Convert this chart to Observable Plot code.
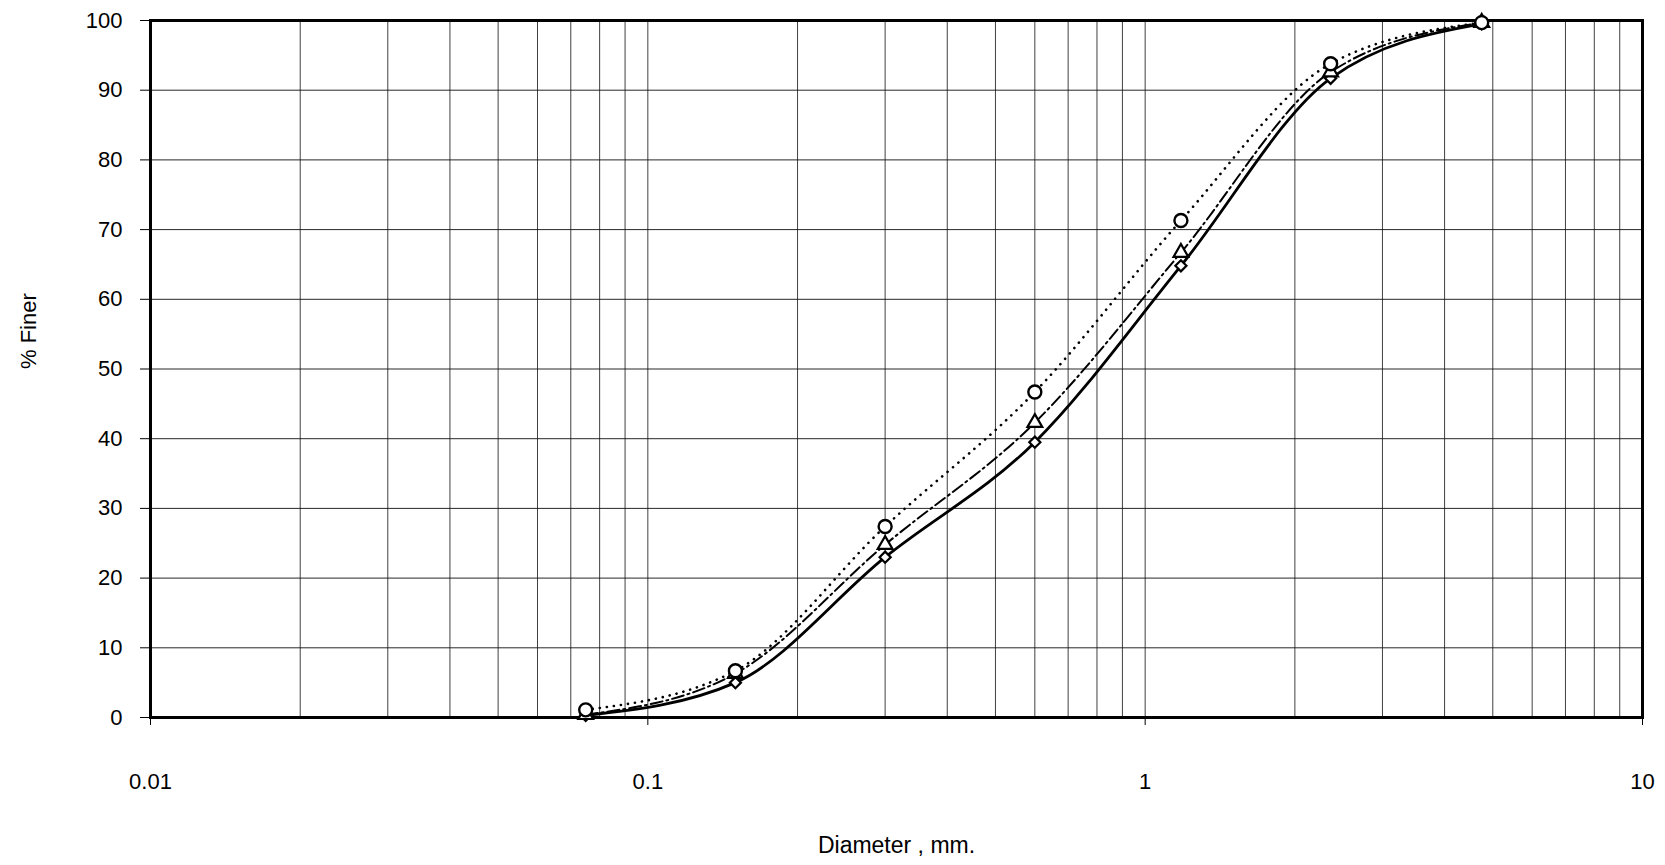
<!DOCTYPE html>
<html>
<head>
<meta charset="utf-8">
<script src="https://cdn.jsdelivr.net/npm/d3@7"></script>
<script src="https://cdn.jsdelivr.net/npm/@observablehq/plot@0.6"></script>
<style>
  html, body { margin: 0; padding: 0; background: white; }
  #chart { width: 1665px; height: 865px; }
</style>
</head>
<body>
<div id="chart"></div>
<script>
// Sieve sizes (mm)
const sizes = [0.075, 0.15, 0.3, 0.6, 1.18, 2.36, 4.75];
// % finer for the three samples
const seriesCircle   = [1.1, 6.7, 27.4, 46.7, 71.3, 93.8, 99.7];
const seriesTriangle = [0.4, 6.3, 24.8, 42.3, 66.7, 92.6, 99.7];
const seriesDiamond  = [0.3, 5.0, 23.0, 39.5, 64.8, 91.7, 99.5];

// Axis ticks and labels
const xTicks = [0.01, 0.1, 1, 10];
const xTickLabels = ["0.01", "0.1", "1", "10"];
const xGrid = [0.02,0.03,0.04,0.05,0.06,0.07,0.08,0.09,0.1,
               0.2,0.3,0.4,0.5,0.6,0.7,0.8,0.9,1,
               2,3,4,5,6,7,8,9];
const yTicks = [0,10,20,30,40,50,60,70,80,90,100];
const yGrid = [10,20,30,40,50,60,70,80,90];
const xTitle = "Diameter , mm.";
const yTitle = "% Finer";

const rows = vals => sizes.map((s, i) => ({x: s, y: vals[i]}));
const dC = rows(seriesCircle), dT = rows(seriesTriangle), dD = rows(seriesDiamond);

const font = "'Liberation Sans', Arial, sans-serif";

const chart = Plot.plot({
  width: 1665,
  height: 865,
  marginLeft: 150,
  marginRight: 23,
  marginTop: 20,
  marginBottom: 148,
  x: {type: "log", domain: [0.01, 10]},
  y: {domain: [0, 100]},
  style: {fontFamily: font, fontSize: "22px", background: "white", color: "black"},
  marks: [
    Plot.ruleX(xGrid, {stroke: "#111", strokeWidth: 1, strokeOpacity: 0.8}),
    Plot.ruleY(yGrid, {stroke: "#111", strokeWidth: 1, strokeOpacity: 0.9}),
    Plot.axisY({ticks: yTicks, tickSize: 10, tickPadding: 18, fontSize: 22, label: null, stroke: "black"}),
    Plot.axisX({ticks: xTicks, tickSize: 8, tickPadding: 48, fontSize: 22, label: null,
                tickFormat: d => xTickLabels[xTicks.indexOf(d)]}),
    Plot.line(dC, {x: "x", y: "y", curve: "monotone-x", stroke: "black", strokeWidth: 2.6,
                   strokeDasharray: "0.1,7", strokeLinecap: "round"}),
    Plot.line(dT, {x: "x", y: "y", curve: "monotone-x", stroke: "black", strokeWidth: 2,
                   strokeDasharray: "12,4,2,4"}),
    Plot.line(dD, {x: "x", y: "y", curve: "monotone-x", stroke: "black", strokeWidth: 2.8}),
    Plot.frame({stroke: "black", strokeWidth: 3}),
    Plot.dot(dD, {x: "x", y: "y", symbol: "diamond2", r: 5, stroke: "black", strokeWidth: 2.2, fill: "white"}),
    Plot.dot(dT, {x: "x", y: "y", symbol: "triangle", r: 5.5, stroke: "black", strokeWidth: 2.2, fill: "white"}),
    Plot.dot(dC, {x: "x", y: "y", symbol: "circle", r: 6.5, stroke: "black", strokeWidth: 2.4, fill: "white"}),
    Plot.text([xTitle], {frameAnchor: "bottom", dy: 128, lineAnchor: "middle", fontSize: 23, fill: "black"}),
    Plot.text([yTitle], {frameAnchor: "left", dx: -122, rotate: -90, lineAnchor: "middle", fontSize: 22, fill: "black"})
  ]
});
document.getElementById("chart").appendChild(chart);
</script>
</body>
</html>
